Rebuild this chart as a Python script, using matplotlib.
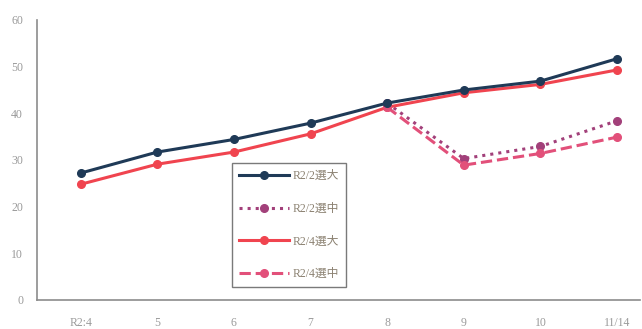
import numpy as np
import matplotlib.pyplot as plt

months = ['R2:4', '5', '6', '7', '8', '9', '10', '11/14']
r22_solid = [27.2, 31.7, 34.4, 37.9, 42.2, 45.0, 46.9, 51.7]
r24_solid = [24.8, 29.1, 31.7, 35.6, 41.3, 44.4, 46.2, 49.3]
r22_dot = [np.nan, np.nan, np.nan, np.nan, 42.2, 30.3, 32.9, 38.4]
r24_dash = [np.nan, np.nan, np.nan, np.nan, 41.3, 28.9, 31.4, 34.9]
labels = ['R2/2選大', 'R2/2選中', 'R2/4選大', 'R2/4選中']

plt.rcParams['font.family'] = ['Liberation Serif', 'Noto Sans CJK JP']

fig = plt.figure(figsize=(6.42, 3.29), dpi=100)
ax = fig.add_axes([37 / 642, 29 / 329, 603 / 642, 280 / 329])
x = np.arange(len(months))

ax.plot(x, r22_solid, color='#1f3a57', lw=2.2, marker='o', ms=5.5, label=labels[0], zorder=4)
ax.plot(x, r22_dot, color='#a2407a', lw=2.2, ls=':', marker='o', ms=5.5, label=labels[1], zorder=3)
ax.plot(x, r24_solid, color='#f0444f', lw=2.2, marker='o', ms=5.5, label=labels[2], zorder=3)
ax.plot(x, r24_dash, color='#e2507a', lw=2.2, ls='--', marker='o', ms=5.5, label=labels[3], zorder=3)

ax.set_xlim(-0.57, 7.3)
ax.set_ylim(0, 60)
ax.set_yticks(range(0, 61, 10))
ax.set_xticks(x)
ax.set_xticklabels(months)
ax.tick_params(length=0, labelsize=8.5, colors='#9a9a9a')
ax.tick_params(axis='x', pad=12)
ax.tick_params(axis='y', pad=10)
for s in ['top', 'right']:
    ax.spines[s].set_visible(False)
for s in ['left', 'bottom']:
    ax.spines[s].set_color('#8c8c8c')
    ax.spines[s].set_linewidth(1.2)

leg = fig.legend(loc='upper left', bbox_to_anchor=(232 / 642, 1 - 163 / 329),
                 borderaxespad=0, fontsize=8.5, handlelength=4.2, labelspacing=1.75,
                 borderpad=0.6, handletextpad=0.35, fancybox=False, framealpha=1,
                 edgecolor='#7a7a7a', labelcolor='#8a8070')
leg.get_frame().set_linewidth(1.0)

fig.savefig('out.png', dpi=100)
